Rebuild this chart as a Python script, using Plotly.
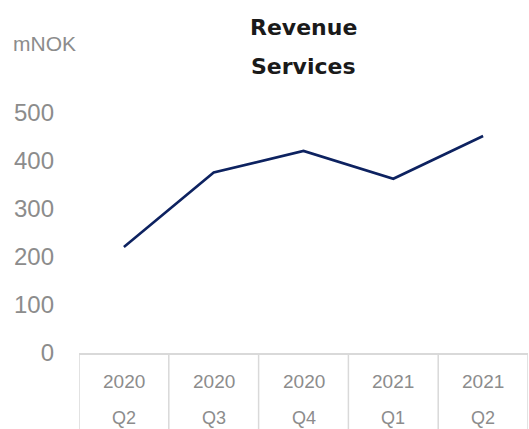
import plotly.graph_objects as go

years = ["2020", "2020", "2020", "2021", "2021"]
quarters = ["Q2", "Q3", "Q4", "Q1", "Q2"]
revenue = [221, 376, 421, 363, 452]
y_ticks = [0, 100, 200, 300, 400, 500]

x_idx = list(range(len(revenue)))
gray = "#8c8c8c"
sep = "#d9d9d9"
font_family = "Liberation Sans, Arial, sans-serif"

W, H = 529, 429
L, R, T, B = 79, 1, 113, 76
PW, PH = W - L - R, H - T - B


def px_x(xp):
    return (xp - L) / PW


def px_y(yp):
    return (H - B - yp) / PH


fig = go.Figure()
fig.add_trace(go.Scatter(
    x=x_idx, y=revenue, mode="lines",
    line=dict(color="#0d2260", width=2.6),
    hoverinfo="skip", showlegend=False,
))

shapes = []
for i in range(len(revenue) + 1):
    shapes.append(dict(type="line", xref="x", yref="paper",
                       x0=i - 0.5, x1=i - 0.5, y0=0, y1=-B / PH,
                       line=dict(color=sep, width=1.5)))

annotations = []
for i, (yr, q) in enumerate(zip(years, quarters)):
    annotations.append(dict(x=i, y=0, xref="x", yref="paper", text=yr,
                            showarrow=False, yanchor="middle", yshift=-28,
                            font=dict(family=font_family, size=19, color=gray)))
    annotations.append(dict(x=i, y=0, xref="x", yref="paper", text=q,
                            showarrow=False, yanchor="middle", yshift=-65,
                            font=dict(family=font_family, size=18, color=gray)))

annotations.append(dict(x=px_x(11), y=px_y(44), xref="paper", yref="paper", text="mNOK",
                        showarrow=False, xanchor="left", yanchor="middle",
                        font=dict(family=font_family, size=21, color=gray)))

for txt, ypix in [("Revenue", 28), ("Services", 66)]:
    annotations.append(dict(x=px_x(303), y=px_y(ypix), xref="paper", yref="paper",
                            text="<b>" + txt + "</b>", showarrow=False,
                            xanchor="center", yanchor="middle",
                            font=dict(family="DejaVu Sans, sans-serif", size=22, color="#1a1a1a")))

fig.update_layout(
    width=W, height=H,
    margin=dict(l=L, r=R, t=T, b=B),
    paper_bgcolor="white", plot_bgcolor="white",
    xaxis=dict(range=[-0.5, len(revenue) - 0.5], showgrid=False, zeroline=False,
               showticklabels=False, showline=True, linecolor=sep, linewidth=1.5,
               fixedrange=True),
    yaxis=dict(range=[0, 500], tickvals=y_ticks, showgrid=False, zeroline=False,
               showline=False, ticks="", ticklabelstandoff=24,
               tickfont=dict(family=font_family, size=24, color=gray),
               fixedrange=True),
    shapes=shapes,
    annotations=annotations,
)

fig.write_html("out.html", config={"displayModeBar": False},
               post_script="document.body.style.margin='0';document.body.style.padding='0';")
